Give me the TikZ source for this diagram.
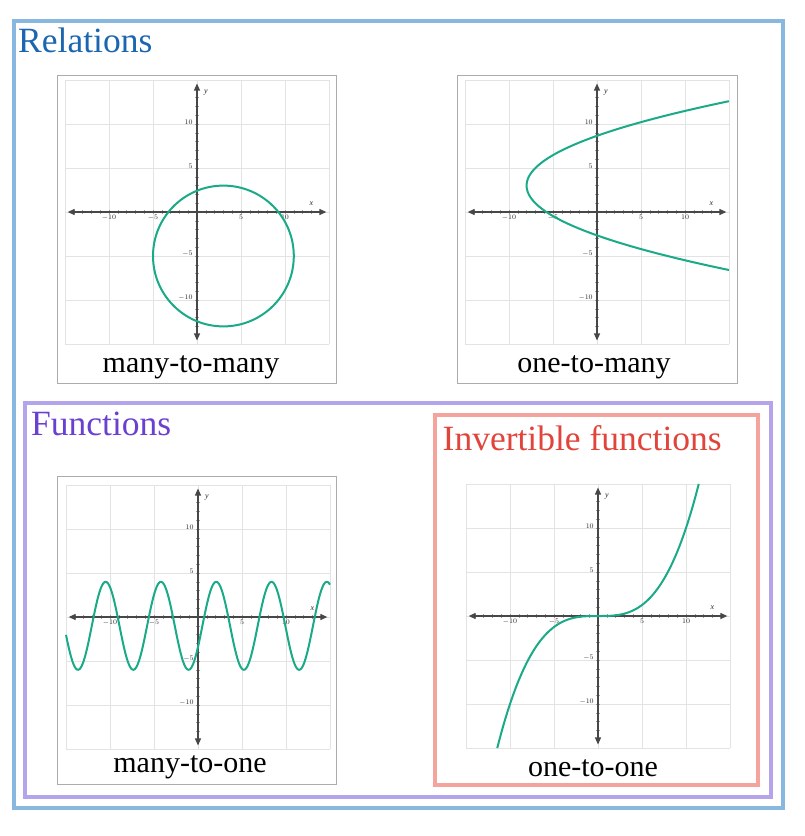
\documentclass[tikz,border=0pt]{standalone}
\usepackage{fontspec}
\setmainfont{Liberation Serif}
\usepackage{xcolor}
\usepackage{tikz}
\usetikzlibrary{arrows.meta, positioning}

\definecolor{relblue}{HTML}{88B8E0}
\definecolor{reltext}{HTML}{1A66B0}
\definecolor{funpurple}{HTML}{B4A4EC}
\definecolor{funtext}{HTML}{6A40D0}
\definecolor{invred}{HTML}{F4A49C}
\definecolor{invtext}{HTML}{E0443A}
\definecolor{curvegreen}{HTML}{1AAA88}
\definecolor{axisgray}{HTML}{474747}

\tikzset{
  groupframe/.style={line width=4pt},
  panelbox/.style={draw=gray!65, line width=1pt},
  gridline/.style={draw=gray!22, line width=0.9pt},
  axisline/.style={draw=axisgray, line width=1.2pt, {Triangle[length=7pt,width=6pt]}-{Triangle[length=7pt,width=6pt]}},
  tickmark/.style={draw=gray!75, line width=0.4pt},
  ticklabel/.style={font=\fontsize{7}{8}\selectfont, text=black!85, inner sep=1pt},
  axislabel/.style={font=\fontsize{8}{9}\selectfont\itshape, text=black!85, inner sep=0pt},
  curve/.style={draw=curvegreen, line width=2pt},
  caption/.style={font=\fontsize{30}{32}\selectfont, anchor=base, inner sep=0pt},
  grouptitle/.style={font=\fontsize{35.5}{38}\selectfont, anchor=base west, inner sep=0pt},
}

% one coordinate plane, -15..15 both ways
\newcommand{\drawplane}[1]{%
  % grid lines
  \foreach \g in {-15,-10,...,15} {
    \draw[gridline] (\g,-15) -- (\g,15);
    \draw[gridline] (-15,\g) -- (15,\g);
  }
  % unit ticks
  \foreach \t in {-14,...,-1,1,2,...,14} {
    \draw[tickmark] (\t,-0.2) -- (\t,0.2);
    \draw[tickmark] (-0.2,\t) -- (0.2,\t);
  }
  % axes
  \coordinate (#1W) at (-14.7,0);
  \coordinate (#1E) at (14.7,0);
  \coordinate (#1S) at (0,-14.6);
  \coordinate (#1N) at (0,14.6);
  \draw[axisline] (#1W) -- (#1E);
  \draw[axisline] (#1S) -- (#1N);
  % tick labels
  \foreach \v/\n in {-10/a, -5/b, 5/c, 10/d} {
    \node[ticklabel, anchor=north] (#1x\n) at (\v,-0.15) {$\v$};
    \node[ticklabel, anchor=east] (#1y\n) at (-0.35,\v+0.25) {$\v$};
  }
  \node[axislabel] (#1xl) at (13,1) {x};
  \node[axislabel] (#1yl) at (1,13.6) {y};
}

\begin{document}
\begin{tikzpicture}[x=1pt, y=-1pt]
    \useasboundingbox (0,0) rectangle (804,836);

    % Group frames
    \draw[groupframe, draw=relblue] (14,21) rectangle (783,808);
    \draw[groupframe, draw=funpurple] (24.7,403) rectangle (771,797);
    \draw[groupframe, draw=invred] (435,415) rectangle (758,784.7);

    \node[grouptitle, text=reltext] (relTitle) at (18,52) {Relations};
    \node[grouptitle, text=funtext] (funTitle) at (31,435) {Functions};
    \node[grouptitle, text=invtext] (invTitle) at (442.5,450.5) {Invertible functions};

    % Panel boxes
    \draw[panelbox] (57,75) rectangle (336,383);
    \draw[panelbox] (457,75) rectangle (737,383);
    \draw[panelbox] (57,476) rectangle (336,784);

    % Circle: many-to-many
    \begin{scope}[shift={(197,212)}, x=8.8pt, y=8.8pt]
      \drawplane{A}
      \draw[curve] (3,-5) circle[radius=8];
    \end{scope}
    \node[caption] (capA) at (191,372) {many-to-many};

    % Sideways parabola: one-to-many
    \begin{scope}[shift={(597,212)}, x=8.8pt, y=8.8pt]
      \drawplane{B}
      \draw[curve, domain=-9.59:9.59, samples=120, smooth, variable=\s]
        plot ({\s*\s/4-8},{\s+3});
    \end{scope}
    \node[caption] (capB) at (594,372) {one-to-many};

    % Sine wave: many-to-one
    \begin{scope}[shift={(198,617)}, x=8.8pt, y=8.8pt]
      \drawplane{C}
      \draw[curve, domain=-15:15, samples=240, smooth]
        plot (\x,{5*sin(deg(\x-0.5))-1});
    \end{scope}
    \node[caption] (capC) at (190,772) {many-to-one};

    % Cubic: one-to-one
    \begin{scope}[shift={(598,616)}, x=8.8pt, y=8.8pt]
      \drawplane{D}
      \draw[curve, domain=-11.45:11.45, samples=120, smooth]
        plot (\x,{\x*\x*\x/100});
    \end{scope}
    \node[caption] (capD) at (593,776) {one-to-one};
  \end{tikzpicture}
\end{document}
